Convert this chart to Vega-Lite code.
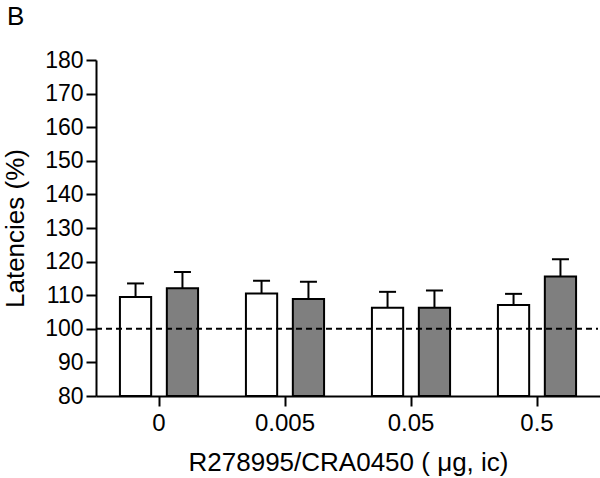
{
  "$schema": "https://vega.github.io/schema/vega-lite/v6.json",
  "autosize": {"type": "none"},
  "width": 504,
  "height": 336,
  "padding": {"left": 96, "top": 60, "right": 0, "bottom": 82},
  "background": "white",
  "title": {"text": "B", "anchor": "start", "frame": "group", "dx": -89, "fontSize": 26, "font": "Liberation Sans", "fontWeight": "normal", "color": "black", "baseline": "alphabetic", "offset": -2},
  "config": {
    "view": {"stroke": null},
    "font": "Liberation Sans",
    "axis": {"domainColor": "black", "domainWidth": 2, "tickColor": "black", "tickWidth": 2, "tickSize": 10, "labelColor": "black", "titleColor": "black", "labelFont": "Liberation Sans", "titleFont": "Liberation Sans", "labelFontSize": 23, "titleFontSize": 26, "titleFontWeight": "normal", "grid": false}
  },
  "data": {"values": [
    {"dose": "0", "group": "A", "mean": 109.5, "upper": 113.5},
    {"dose": "0", "group": "B", "mean": 112.1, "upper": 116.9},
    {"dose": "0.005", "group": "A", "mean": 110.5, "upper": 114.3},
    {"dose": "0.005", "group": "B", "mean": 108.9, "upper": 114.0},
    {"dose": "0.05", "group": "A", "mean": 106.3, "upper": 111.0},
    {"dose": "0.05", "group": "B", "mean": 106.3, "upper": 111.4},
    {"dose": "0.5", "group": "A", "mean": 107.1, "upper": 110.4},
    {"dose": "0.5", "group": "B", "mean": 115.6, "upper": 120.7}
  ]},
  "encoding": {
    "x": {"field": "dose", "type": "nominal", "sort": ["0", "0.005", "0.05", "0.5"],
      "scale": {"paddingInner": 0.2, "paddingOuter": 0.1},
      "axis": {"title": "R278995/CRA0450 ( μg, ic)", "labelAngle": 0, "labelFontSize": 24, "labelPadding": 5, "titlePadding": 14}},
    "xOffset": {"field": "group", "type": "nominal", "scale": {"paddingInner": 0.334, "paddingOuter": 0.2415}},
    "y": {"field": "mean", "type": "quantitative", "scale": {"domain": [80, 180], "zero": false, "nice": false},
      "axis": {"title": "Latencies (%)", "values": [80, 90, 100, 110, 120, 130, 140, 150, 160, 170, 180], "labelOverlap": false, "labelPadding": 3, "titlePadding": 16}}
  },
  "layer": [
    {
      "mark": {"type": "rule", "stroke": "black", "strokeWidth": 2},
      "encoding": {"y2": {"field": "upper"}}
    },
    {
      "mark": {"type": "tick", "orient": "horizontal", "color": "black", "size": 17, "thickness": 2, "opacity": 1},
      "encoding": {"y": {"field": "upper", "type": "quantitative"}}
    },
    {
      "mark": {"type": "bar", "stroke": "black", "strokeWidth": 2, "opacity": 1},
      "encoding": {
        "y2": {"datum": 80},
        "fill": {"field": "group", "type": "nominal", "scale": {"domain": ["A", "B"], "range": ["white", "#7f7f7f"]}, "legend": null}
      }
    },
    {
      "data": {"values": [{"ref": 100}]},
      "mark": {"type": "rule", "stroke": "black", "strokeWidth": 2, "strokeDash": [6, 4]},
      "encoding": {"y": {"field": "ref", "type": "quantitative"}, "x": {"value": 0}, "x2": {"value": 502}, "xOffset": null}
    }
  ]
}
